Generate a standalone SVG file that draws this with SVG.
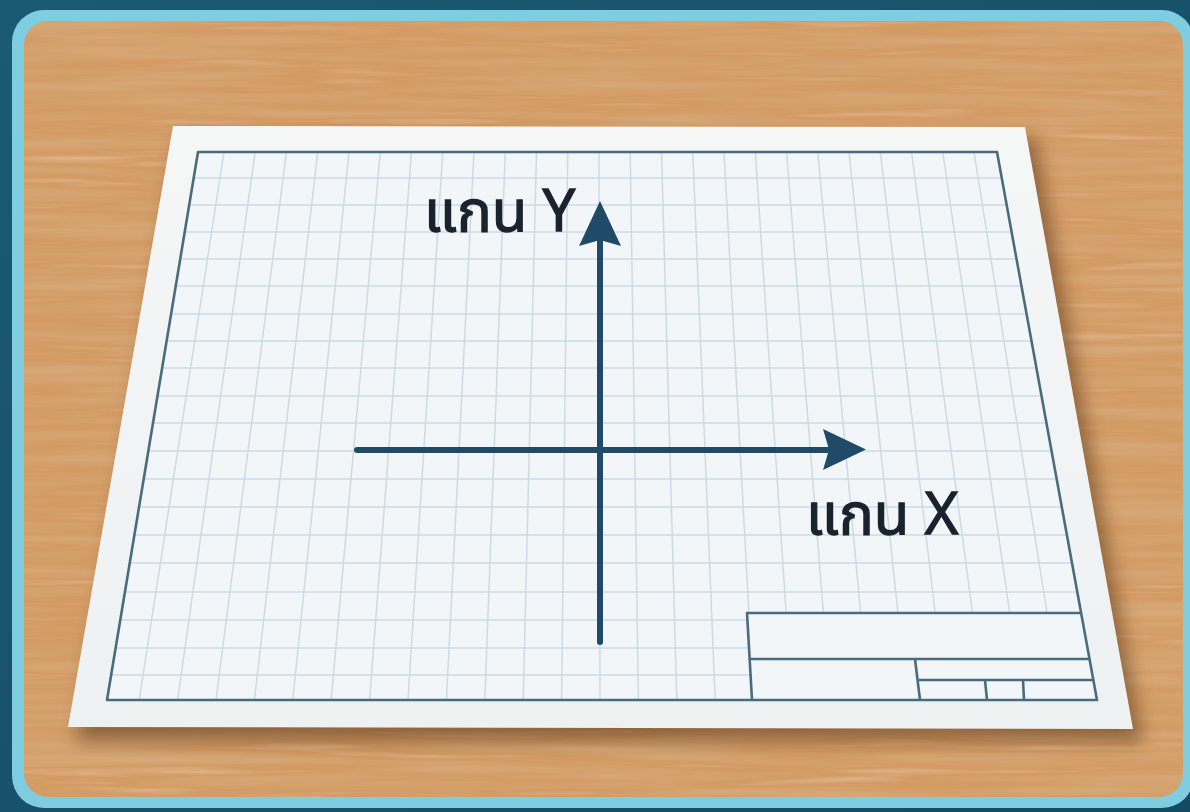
<svg xmlns="http://www.w3.org/2000/svg" width="1190" height="812" viewBox="0 0 1190 812">
  <style>
    .grid { stroke: #cbdbe4; stroke-width: 1.5; fill: none; }
    .border { stroke: #4a6b7e; stroke-width: 2.6; fill: none; stroke-linejoin: round; }
    .axis { stroke: #1f4b68; stroke-width: 6; stroke-linecap: round; fill: none; }
    .head { fill: #1f4b68; }
    .label { font-family: 'Noto Sans Thai', 'Noto Sans', 'DejaVu Sans', sans-serif; font-size: 58px; font-weight: 400; fill: #18232d; stroke: #18232d; stroke-width: 1.3; }
  </style>
  <defs>
    <linearGradient id="bgGrad" x1="0" y1="0" x2="1" y2="1">
      <stop offset="0" stop-color="#1a5a72"/>
      <stop offset="1" stop-color="#154a63"/>
    </linearGradient>
    <linearGradient id="paperGrad" x1="0" y1="0" x2="0" y2="1">
      <stop offset="0" stop-color="#f5f6f6"/>
      <stop offset="1" stop-color="#eef1f2"/>
    </linearGradient>
    <filter id="grain" x="0" y="0" width="100%" height="100%">
      <feTurbulence type="fractalNoise" baseFrequency="0.004 0.085" numOctaves="4" seed="7" result="n"/>
      <feColorMatrix in="n" type="matrix" values="0 0 0 0 0.68  0 0 0 0 0.42  0 0 0 0 0.21  1.7 0 0 0 -0.62" result="dark"/>
      <feColorMatrix in="n" type="matrix" values="0 0 0 0 0.88  0 0 0 0 0.68  0 0 0 0 0.47  -1.3 0 0 0 0.5" result="light"/>
      <feComposite in="dark" in2="SourceGraphic" operator="atop" result="a"/>
      <feComposite in="light" in2="a" operator="atop"/>
    </filter>
    <filter id="shadow" x="-10%" y="-10%" width="120%" height="130%">
      <feGaussianBlur stdDeviation="9"/>
    </filter>
    <clipPath id="gridClip">
      <polygon points="198,152 997,152 1097,700 107,700"/>
    </clipPath>
  </defs>

  <g id="background">
    <rect x="0" y="0" width="1190" height="812" fill="url(#bgGrad)"/>
    <rect x="12" y="10" width="1182" height="798" rx="32" fill="#7fcde0"/>
    <rect x="24" y="21" width="1159" height="776" rx="24" fill="#d39a62" filter="url(#grain)"/>
  </g>

  <g id="paper">
    <polygon points="180,136 1036,138 1143,742 76,742" fill="#5a3518" opacity="0.55" filter="url(#shadow)"/>
    <polygon points="173,126 1025,127 1133,729 68,727" fill="url(#paperGrad)"/>
    <polygon points="198,152 997,152 1097,700 107,700" fill="#f3f6f8"/>
  </g>

  <g id="grid" clip-path="url(#gridClip)">
    <path class="grid" d="M224,152 L139.2,700 M255.25,152 L177.6,700 M286.5,152 L216,700 M317.75,152 L254.4,700 M349,152 L292.8,700 M380.25,152 L331.2,700 M411.5,152 L369.6,700 M442.75,152 L408,700 M474,152 L446.4,700 M505.25,152 L484.8,700 M536.5,152 L523.2,700 M567.75,152 L561.6,700 M599,152 L600,700 M630.25,152 L638.4,700 M661.5,152 L676.8,700 M692.75,152 L715.2,700 M724,152 L753.6,700 M755.25,152 L792,700 M786.5,152 L830.4,700 M817.75,152 L868.8,700 M849,152 L907.2,700 M880.25,152 L945.6,700 M911.5,152 L984,700 M942.75,152 L1022.4,700 M974,152 L1060.8,700"/>
    <path class="grid" d="M100,178 H1100 M100,205 H1100 M100,232 H1100 M100,259 H1100 M100,286 H1100 M100,314 H1100 M100,341 H1100 M100,368 H1100 M100,396 H1100 M100,423 H1100 M100,451 H1100 M100,479 H1100 M100,507 H1100 M100,535 H1100 M100,563 H1100 M100,592 H1100 M100,620 H1100 M100,648 H1100 M100,675 H1100"/>
  </g>

  <g id="title-block">
    <polygon points="747,613 1081,613 1097,700 752,700" fill="#f3f6f8"/>
    <path class="border" d="M1081,613 H747 L752,700 M750,659 H1089.5 M915,659 L920,700 M919,680 H1093.3 M985,680 L987,700 M1023,680 L1024,700"/>
  </g>

  <g id="grid-border">
    <polygon class="border" points="198,152 997,152 1097,700 107,700"/>
  </g>

  <g id="axes">
    <line class="axis" x1="357" y1="450" x2="832" y2="450"/>
    <path class="head" d="M866,449.5 L823,429 L829,449.5 L823,470 Z"/>
    <line class="axis" x1="600" y1="642" x2="600" y2="238"/>
    <path class="head" d="M600,201 L579,246 L600,240 L621,246 Z"/>
  </g>

  <g id="labels">
    <text class="label" x="424" y="231">แกน Y</text>
    <text class="label" x="806" y="534">แกน X</text>
  </g>
</svg>
